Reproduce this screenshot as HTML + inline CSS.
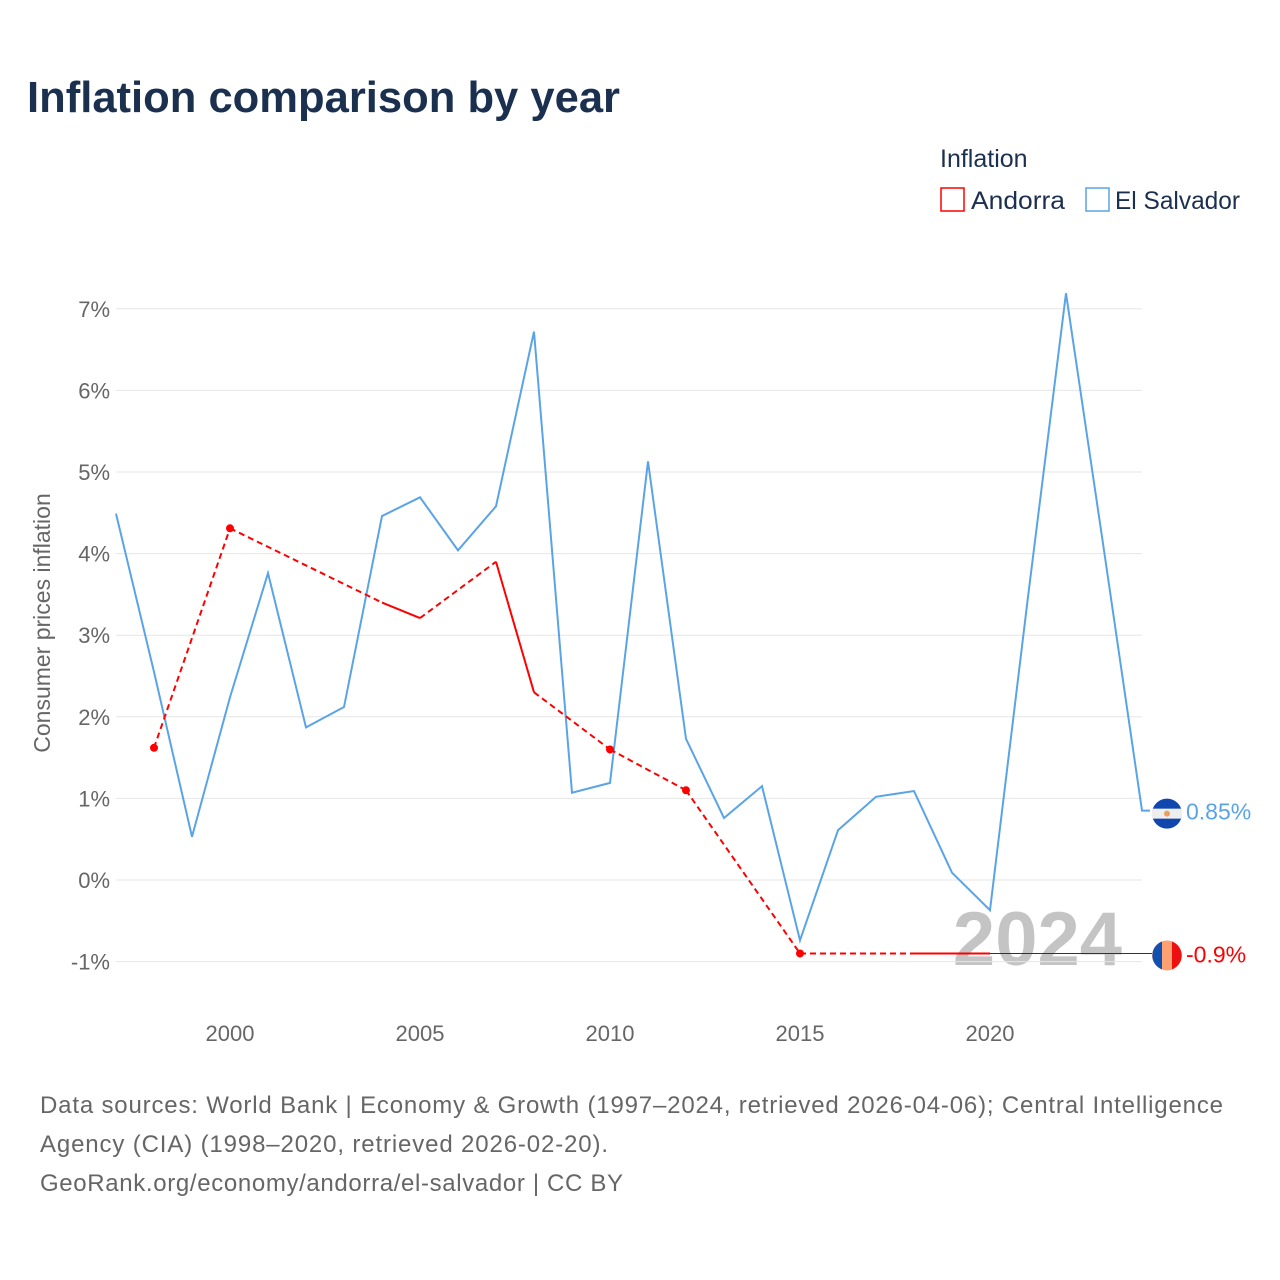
<!DOCTYPE html>
<html><head><meta charset="utf-8"><style>
body{margin:0;background:#fff;font-family:"Liberation Sans",sans-serif}
</style></head><body>
<svg id="c" width="1280" height="1280" xmlns="http://www.w3.org/2000/svg" style="display:block">
<text x="27" y="112" font-size="44" font-weight="bold" fill="#1b2f4f" textLength="593" lengthAdjust="spacingAndGlyphs">Inflation comparison by year</text>
<text x="940" y="167" font-size="25" fill="#1b2f4f">Inflation</text>
<g><rect x="941" y="188" width="23" height="23" fill="none" stroke="#ff0000" stroke-width="1.5"/><text x="971" y="209" font-size="25" fill="#1b2f4f" textLength="94" lengthAdjust="spacingAndGlyphs">Andorra</text></g>
<g><rect x="1086" y="188" width="23" height="23" fill="none" stroke="#5aa4e6" stroke-width="1.5"/><text x="1115" y="209" font-size="25" fill="#1b2f4f" textLength="125" lengthAdjust="spacingAndGlyphs">El Salvador</text></g>
<text transform="translate(50,623) rotate(-90)" text-anchor="middle" font-size="23" fill="#666">Consumer prices inflation</text>
<text x="1122" y="965" text-anchor="end" font-size="76" font-weight="bold" fill="#c4c4c4">2024</text>
<g id="grid"></g><g id="marks"></g>
<text x="40" y="1113" font-size="24" fill="#666" textLength="1183" lengthAdjust="spacing">Data sources: World Bank | Economy &amp; Growth (1997–2024, retrieved 2026-04-06); Central Intelligence</text>
<text x="40" y="1152" font-size="24" fill="#666" textLength="568" lengthAdjust="spacing">Agency (CIA) (1998–2020, retrieved 2026-02-20).</text>
<text x="40" y="1191" font-size="24" fill="#666" textLength="583" lengthAdjust="spacing">GeoRank.org/economy/andorra/el-salvador | CC BY</text>
</svg>
<script>
const yTicks=[-1,0,1,2,3,4,5,6,7];
const xTicks=[2000,2005,2010,2015,2020];
const esYears=[1997,1998,1999,2000,2001,2002,2003,2004,2005,2006,2007,2008,2009,2010,2011,2012,2013,2014,2015,2016,2017,2018,2019,2020,2021,2022,2023,2024];
const esVals=[4.49,2.55,0.53,2.24,3.76,1.87,2.12,4.46,4.69,4.04,4.58,6.72,1.07,1.19,5.13,1.73,0.76,1.15,-0.74,0.61,1.02,1.09,0.09,-0.37,3.47,7.19,4.04,0.85];
const adYears=[1998,2000,2004,2005,2007,2008,2010,2012,2015,2018,2019,2020];
const adVals=[1.62,4.31,3.4,3.21,3.9,2.3,1.6,1.1,-0.9,-0.9,-0.9,-0.9];
const X=y=>116+(y-1997)*38, Y=v=>880-v*81.6;
const NS="http://www.w3.org/2000/svg";
function mk(t,a,p){const e=document.createElementNS(NS,t);for(const k in a)e.setAttribute(k,a[k]);p.appendChild(e);return e;}
const g=document.getElementById('grid'),m=document.getElementById('marks');
yTicks.forEach(v=>{
 const l=mk('line',{x1:116,x2:1142,y1:Y(v),y2:Y(v),stroke:'#e6e6e6'},g);
 
 
 const t=mk('text',{x:110,y:Y(v)+8,'text-anchor':'end','font-size':22,fill:'#666'},g);t.textContent=v+'%';
 
 
});
xTicks.forEach(v=>{
 const t=mk('text',{x:X(v),y:1041,'text-anchor':'middle','font-size':22,fill:'#666'},g);t.textContent=v;
 
 
});
const es=mk('polyline',{points:esYears.map((y,i)=>X(y)+','+Y(esVals[i])).join(' ')+' '+(X(2024)+8)+','+Y(esVals[esVals.length-1]),fill:'none',stroke:'#5aa4e6','stroke-width':2},m);


for(let i=0;i<adYears.length-1;i++){
 const gap=adYears[i+1]-adYears[i]>1;
 const s=mk('line',{x1:X(adYears[i]),y1:Y(adVals[i]),x2:X(adYears[i+1]),y2:Y(adVals[i+1]),stroke:'#ff0000','stroke-width':2,'stroke-dasharray':gap?'6,4':'none'},m);
 
 
}
adYears.forEach((y,i)=>{
 const prev=i>0&&adYears[i-1]==y-1,next=i<adYears.length-1&&adYears[i+1]==y+1;
 if(!prev&&!next){const d=mk('circle',{cx:X(y),cy:Y(adVals[i]),r:4,fill:'#ff0000'},m);
 
 }
});
const aLast=adVals[adVals.length-1],eLast=esVals[esVals.length-1];
const cl=mk('line',{x1:X(2020),x2:1152,y1:Y(aLast),y2:Y(aLast),stroke:'#333','stroke-width':1},m);


const f1=mk('g',{},m);
const cy1=Y(eLast)+3;
mk('circle',{cx:1167,cy:cy1,r:15,fill:'#0f47af'},f1);
mk('rect',{x:1152,y:cy1-5,width:30,height:10,fill:'#eee'},f1);
mk('circle',{cx:1167,cy:cy1,r:3,fill:'#e9a060'},f1);
const t1=mk('text',{x:1186,y:cy1+6,'font-size':23,fill:'#5aa4e6'},m);t1.textContent=eLast+'%';


const f2=mk('g',{},m);
const cy2=Y(aLast)+2;
mk('circle',{cx:1167,cy:cy2,r:15,fill:'#ffa070'},f2);
mk('path',{d:`M1162 ${cy2-14} A15 15 0 0 0 1162 ${cy2+14} Z`,fill:'#1050b0'},f2);
mk('path',{d:`M1172 ${cy2-14} A15 15 0 0 1 1172 ${cy2+14} Z`,fill:'#ee1010'},f2);
const t2=mk('text',{x:1186,y:cy2+7,'font-size':23,fill:'#ff0000'},m);t2.textContent=aLast+'%';


</script>
</body></html>
